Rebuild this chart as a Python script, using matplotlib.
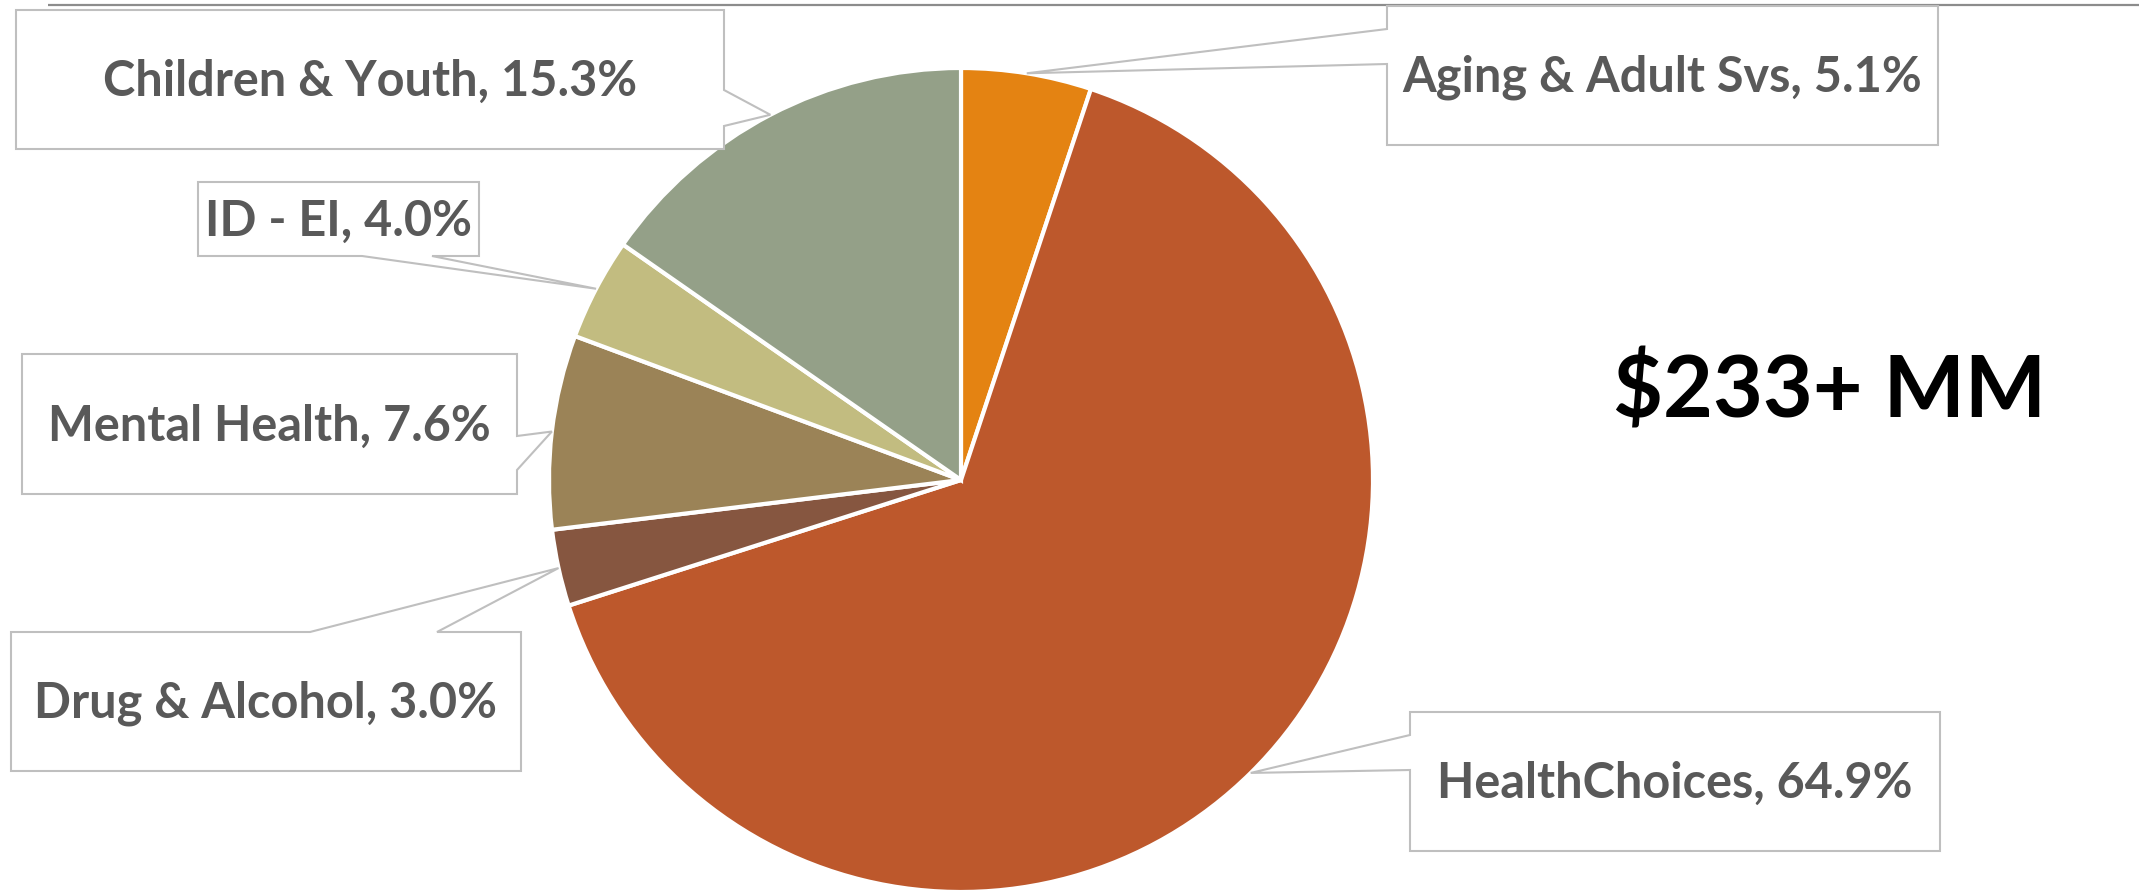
import numpy as np
import matplotlib
matplotlib.use("Agg")
import matplotlib.pyplot as plt
from matplotlib.patches import Polygon

# ---------------- data ----------------
categories = ["Aging & Adult Svs", "HealthChoices", "Drug & Alcohol",
              "Mental Health", "ID - EI", "Children & Youth"]
shares = [5.1, 64.9, 3.0, 7.6, 4.0, 15.3]
colors = ["#E48312", "#BD582C", "#865640", "#9B8357", "#C2BC80", "#94A088"]
total_label = "$233+ MM"

# ---------------- layout (pixel coords, origin top-left) ----------------
W, H = 2139, 893
PIE_CENTER = (961, 480)
PIE_RADIUS = 412
# box: (x0, y0, x1, y1), notch side, notch start, notch end
boxes = [
    ((1387, 6, 1938, 145), "left", 29, 64),
    ((1410, 712, 1940, 851), "left", 735, 770),
    ((11, 632, 521, 771), "top", 310, 437),
    ((22, 354, 517, 494), "right", 436, 470),
    ((198, 182, 479, 256), "bottom", 362, 432),
    ((16, 10, 724, 149), "right", 90, 126),
]

plt.rcParams['font.family'] = ['Lato', 'DejaVu Sans']

fig = plt.figure(figsize=(W / 100, H / 100), dpi=100)
ax = fig.add_axes([0, 0, 1, 1])


def fy(y):
    return H - y


wedges, _ = ax.pie(shares, colors=colors, startangle=90, counterclock=False,
                   center=(PIE_CENTER[0], fy(PIE_CENTER[1])), radius=PIE_RADIUS,
                   wedgeprops=dict(edgecolor="white", linewidth=3))

for w, cat, val, (rect, side, a, b) in zip(wedges, categories, shares, boxes):
    mid = np.deg2rad((w.theta1 + w.theta2) / 2)
    tx = w.center[0] + w.r * np.cos(mid)
    ty = w.center[1] + w.r * np.sin(mid)
    tip = (tx, ty)
    x0, y0, x1, y1 = rect
    if side == "top":
        pts = [(x0, y0), (a, y0), None, (b, y0), (x1, y0), (x1, y1), (x0, y1)]
    elif side == "right":
        pts = [(x0, y0), (x1, y0), (x1, a), None, (x1, b), (x1, y1), (x0, y1)]
    elif side == "bottom":
        pts = [(x0, y0), (x1, y0), (x1, y1), (b, y1), None, (a, y1), (x0, y1)]
    else:
        pts = [(x0, y0), (x1, y0), (x1, y1), (x0, y1), (x0, b), None, (x0, a)]
    poly = [tip if p is None else (p[0], fy(p[1])) for p in pts]
    ax.add_patch(Polygon(poly, closed=True, facecolor="white",
                         edgecolor="#BFBFBF", linewidth=1.5, zorder=5))
    ax.text((x0 + x1) / 2, fy((y0 + y1) / 2 + 2), f"{cat}, {val:.1f}%",
            ha="center", va="center", fontsize=35, fontweight="bold",
            color="#595959", zorder=6)

ax.text(1830, fy(392), total_label, ha="center", va="center",
        fontsize=62, fontweight="bold", color="black")

ax.plot([48, W], [fy(4.5), fy(4.5)], color="#8C8C8C", linewidth=1.6,
        solid_capstyle="butt")

ax.set_xlim(0, W)
ax.set_ylim(0, H)
ax.set_aspect("auto")
ax.axis("off")

fig.savefig("out.png", dpi=100, facecolor="white")
